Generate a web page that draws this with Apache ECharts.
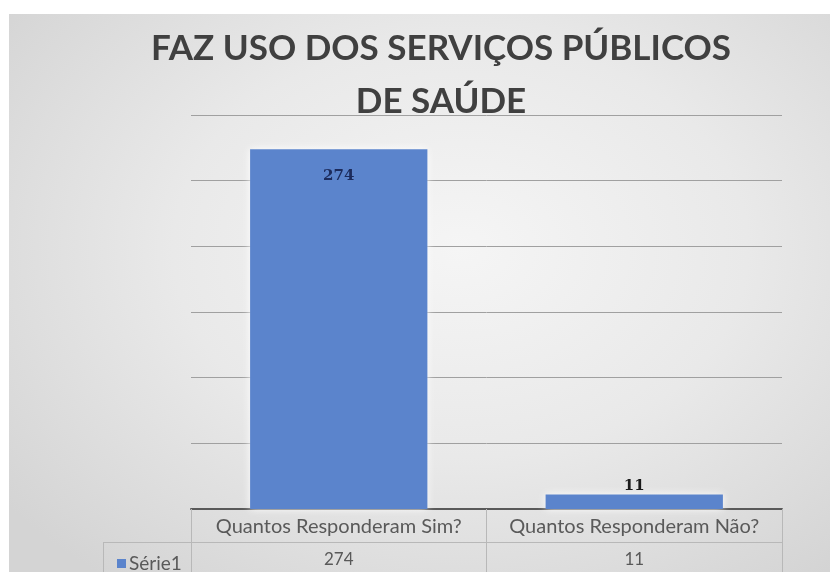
<!DOCTYPE html>
<html>
<head>
<meta charset="utf-8">
<script src="https://cdn.jsdelivr.net/npm/echarts@6/dist/echarts.min.js"></script>
<style>
  html, body { margin: 0; padding: 0; background: #ffffff; width: 830px; height: 572px; overflow: hidden; }
  #chart { position: absolute; left: 9px; top: 14px; width: 821px; height: 558px;
    background: radial-gradient(ellipse 70% 75% at 55% 42%, #f5f5f5 0%, #e9e9e9 50%, #d4d4d4 100%); }
</style>
</head>
<body>
<div id="chart"></div>
<script>
const titleText = 'FAZ USO DOS SERVIÇOS PÚBLICOS\nDE SAÚDE';
const categories = ['Quantos Responderam Sim?', 'Quantos Responderam Não?'];
const seriesName = 'Série1';
const values = [274, 11];
const yMin = 0, yMax = 300, yInterval = 50;

const labelPositions = ['insideTop', 'top'];
const labelColors = ['#1c2b5c', '#1a1a1a'];
const labelDistances = [19, 1];

const chart = echarts.init(document.getElementById('chart'), null, { renderer: 'canvas' });
const tableFont = 'Lato, "Open Sans", sans-serif';

chart.setOption({
  backgroundColor: 'transparent',
  animation: false,
  title: {
    text: titleText,
    left: 427,
    top: 3,
    textAlign: 'center',
    textStyle: { fontFamily: 'Lato, "Open Sans", sans-serif', fontWeight: 'bold', fontSize: 35, lineHeight: 53, color: '#404040' }
  },
  legend: {
    data: [seriesName],
    left: 103,
    top: 535,
    icon: 'rect',
    itemWidth: 9,
    itemHeight: 9,
    itemGap: 4,
    textStyle: { fontFamily: tableFont, fontSize: 19, color: '#595959', padding: [0, 0, 0, -2] }
  },
  grid: { left: 182, right: 48, top: 101, bottom: 63 },
  xAxis: [
    {
      type: 'category',
      data: categories,
      position: 'bottom',
      axisLine: { show: true, lineStyle: { color: '#595959', width: 2 } },
      axisTick: { show: true, interval: 0, alignWithLabel: false, length: 63, lineStyle: { color: '#b8b8b8', width: 1 } },
      axisLabel: { interval: 0, margin: 8, fontFamily: tableFont, fontSize: 20, color: '#595959' },
      splitLine: { show: false }
    },
    {
      type: 'category',
      data: categories,
      position: 'bottom',
      offset: 33,
      axisLine: { show: true, lineStyle: { color: '#b8b8b8', width: 1 } },
      axisTick: { show: false },
      axisLabel: { interval: 0, margin: 9, fontFamily: tableFont, fontSize: 17, color: '#595959',
        formatter: function (v, i) { return String(values[i]); } },
      splitLine: { show: false }
    }
  ],
  yAxis: {
    type: 'value',
    min: yMin, max: yMax, interval: yInterval,
    axisLabel: { show: false },
    axisLine: { show: false },
    axisTick: { show: false },
    splitLine: { show: true, lineStyle: { color: '#a0a0a0', width: 1 } }
  },
  graphic: [
    { type: 'line', shape: { x1: 94, y1: 528.5, x2: 182, y2: 528.5 }, style: { stroke: '#b8b8b8', lineWidth: 1 } },
    { type: 'line', shape: { x1: 94.5, y1: 528, x2: 94.5, y2: 558 }, style: { stroke: '#b8b8b8', lineWidth: 1 } }
  ],
  series: [{
    name: seriesName,
    type: 'bar',
    xAxisIndex: 0,
    barCategoryGap: '40%',
    itemStyle: { color: '#5b84cc', shadowColor: 'rgba(255,255,255,0.95)', shadowBlur: 8 },
    data: values.map((v, i) => ({
      value: v,
      label: {
        show: true,
        position: labelPositions[i],
        distance: labelDistances[i],
        color: labelColors[i],
        fontFamily: '"DejaVu Serif", serif',
        fontWeight: 'bold',
        fontSize: 15
      }
    }))
  }]
});
</script>
</body>
</html>
